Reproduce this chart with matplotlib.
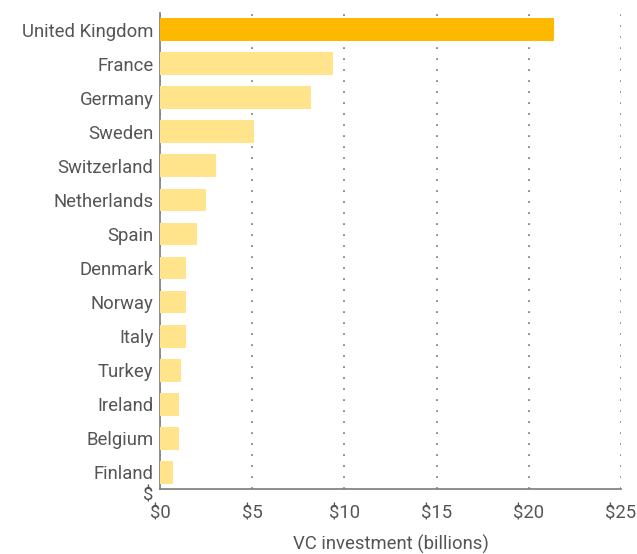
import matplotlib
matplotlib.use('Agg')
import matplotlib.pyplot as plt

# VC investment by country (billions)
countries = ['United Kingdom', 'France', 'Germany', 'Sweden', 'Switzerland',
             'Netherlands', 'Spain', 'Denmark', 'Norway', 'Italy', 'Turkey',
             'Ireland', 'Belgium', 'Finland']
investment = [21.4, 9.4, 8.2, 5.1, 3.0, 2.5, 2.0, 1.4, 1.4, 1.4, 1.1, 1.0, 1.0, 0.7]
xticks = [0, 5, 10, 15, 20, 25]
xticklabels = ['$0', '$5', '$10', '$15', '$20', '$25']

plt.rcParams['font.family'] = ['Roboto', 'DejaVu Sans']
text_col = '#555555'
fs = 13.3

fig = plt.figure(figsize=(6.37, 5.54), dpi=100)
ax = fig.add_axes([0.2517, 0.1168, 0.7227, 0.8603])

colors = ['#FFB800'] + ['#FFE48C'] * (len(countries) - 1)
ax.barh(range(len(countries)), investment, height=0.67, color=colors, zorder=3)

ax.set_ylim(len(countries) - 0.5, -0.5)
ax.set_xlim(0, 25)
ax.set_yticks(range(len(countries)))
ax.set_yticklabels(countries)
ax.set_xticks(xticks)
ax.set_xticklabels(xticklabels)
ax.tick_params(axis='both', length=0, labelsize=fs, colors=text_col)
ax.tick_params(axis='x', pad=11)
ax.tick_params(axis='y', pad=5)

ax.xaxis.grid(True, color='#707070', linestyle=(0, (1.2, 6)), linewidth=1.1, zorder=0)
for s in ['top', 'right']:
    ax.spines[s].set_visible(False)
for s in ['left', 'bottom']:
    ax.spines[s].set_color('#7a7a7a')
    ax.spines[s].set_linewidth(1.2)

ax.text(-0.015, -0.014, '$', transform=ax.transAxes, ha='right', va='center',
        fontsize=fs, color=text_col)
ax.set_xlabel('VC investment (billions)', fontsize=fs, color=text_col, labelpad=9)

fig.savefig('out.png', dpi=100)
